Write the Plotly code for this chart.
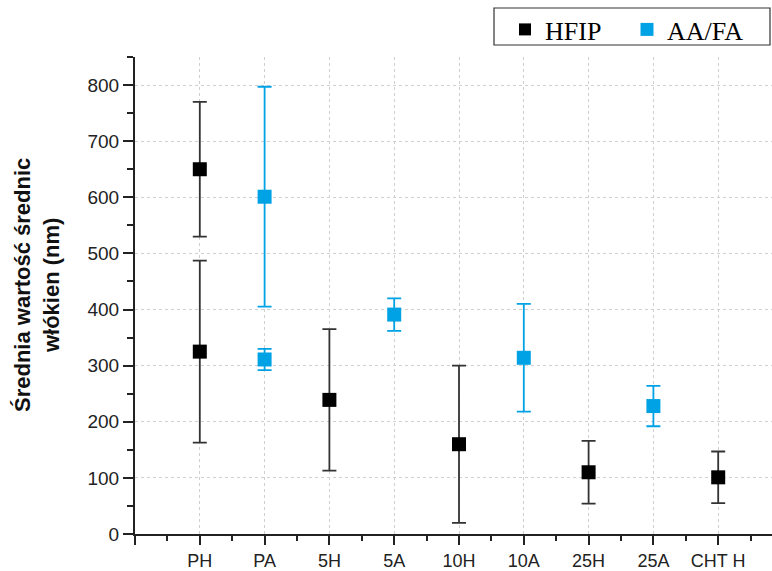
import plotly.graph_objects as go

categories = ["PH", "PA", "5H", "5A", "10H", "10A", "25H", "25A", "CHT H"]

hfip_cats = ["PH", "PH", "5H", "10H", "25H", "CHT H"]
hfip_mean = [650, 325, 239, 160, 110, 101]
hfip_err = [120, 162, 126, 140, 56, 46]

aafa_cats = ["PA", "PA", "5A", "10A", "25A"]
aafa_mean = [601, 311, 391, 314, 228]
aafa_err = [196, 19, 29, 96, 36]

y_ticks = [0, 100, 200, 300, 400, 500, 600, 700, 800]

BLUE = "#00A2E6"
BLACK = "#000000"

W, H = 772, 571
L, R, T, B = 135, 0, 57, 37
PW, PH_ = W - L - R, H - T - B


def px_x(p):
    return (p - L) / PW


def px_y(p):
    return (H - B - p) / PH_


pos = {c: i + 1 for i, c in enumerate(categories)}

fig = go.Figure()

fig.add_trace(go.Scatter(
    x=[pos[c] for c in hfip_cats], y=hfip_mean, mode="markers",
    marker=dict(symbol="square", size=14, color=BLACK),
    error_y=dict(type="data", array=hfip_err, visible=True, color="#333333", thickness=1.8, width=7),
    showlegend=False, name="HFIP",
))
fig.add_trace(go.Scatter(
    x=[pos[c] for c in aafa_cats], y=aafa_mean, mode="markers",
    marker=dict(symbol="square", size=14, color=BLUE),
    error_y=dict(type="data", array=aafa_err, visible=True, color=BLUE, thickness=1.8, width=7),
    showlegend=False, name="AA/FA",
))
# legend entries
fig.add_trace(go.Scatter(x=[None], y=[None], mode="markers", name="HFIP",
                         marker=dict(symbol="square", size=12, color=BLACK)))
fig.add_trace(go.Scatter(x=[None], y=[None], mode="markers", name="AA/FA",
                         marker=dict(symbol="square", size=13, color=BLUE)))

# legend frame
fig.add_shape(type="rect", xref="paper", yref="paper",
              x0=px_x(494), x1=px_x(770), y0=px_y(45), y1=px_y(8),
              line=dict(color="#333333", width=1.2), fillcolor="rgba(0,0,0,0)", layer="above")

# y-axis title
fig.add_annotation(
    text="<b>Średnia wartość średnic<br>włókien (nm)</b>",
    xref="paper", yref="paper", x=px_x(37), y=px_y(285),
    xanchor="center", yanchor="middle", textangle=-90, showarrow=False,
    font=dict(size=22, color="#111111", family="Liberation Sans, Arial, sans-serif"),
)

fig.update_layout(
    width=W, height=H,
    margin=dict(l=L, r=R, t=T, b=B),
    paper_bgcolor="white", plot_bgcolor="white",
    font=dict(family="Liberation Sans, Arial, sans-serif", color="#222222"),
    legend=dict(
        orientation="h", x=px_x(505), xanchor="left",
        y=1 - 6 / H, yanchor="top", yref="container",
        borderwidth=0, bgcolor="rgba(0,0,0,0)",
        font=dict(family="Liberation Serif, Times New Roman, serif", size=26, color="#000000"),
        itemwidth=30, entrywidth=77,
    ),
)

fig.update_xaxes(
    range=[0, (772 - 135) / 64.8],
    tickmode="array",
    tickvals=list(range(0, len(categories) + 1)),
    ticktext=[""] + categories,
    ticks="outside", ticklen=9, tickwidth=1.5, tickcolor="#222222",
    showline=True, linecolor="#222222", linewidth=2,
    showgrid=True, gridcolor="#cfcfcf", griddash="dot", gridwidth=1,
    tickfont=dict(size=18, color="#222222"),
    minor=dict(dtick=0.5, tick0=0, ticks="outside", ticklen=5, tickwidth=1.5, tickcolor="#222222", showgrid=False),
    zeroline=False,
)
fig.update_yaxes(
    range=[0, 850],
    tickmode="array", tickvals=y_ticks,
    ticks="outside", ticklen=10, tickwidth=1.5, tickcolor="#222222",
    showline=True, linecolor="#222222", linewidth=2,
    showgrid=True, gridcolor="#cfcfcf", griddash="dot", gridwidth=1,
    tickfont=dict(size=19, color="#222222"),
    minor=dict(dtick=50, tick0=0, ticks="outside", ticklen=6, tickwidth=1.5, tickcolor="#222222", showgrid=False),
    zeroline=False,
)

fig.write_html("out.html")
